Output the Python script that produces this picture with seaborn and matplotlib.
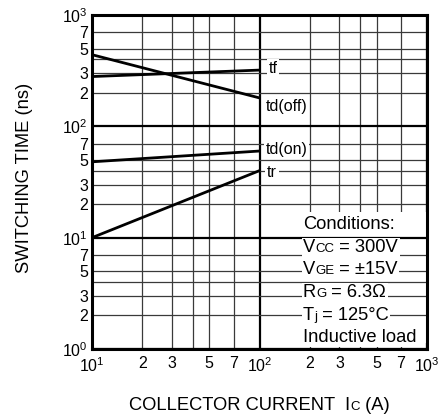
import numpy as np
import pandas as pd
import matplotlib
matplotlib.use("Agg")
import matplotlib.pyplot as plt
import seaborn as sns
from matplotlib.ticker import FixedLocator, FixedFormatter
from matplotlib.patches import Rectangle
from matplotlib.transforms import Bbox

# ---------------- data ----------------
collector_current = [10, 100]          # A
tf_ns = [280, 320]
td_off_ns = [440, 180]
td_on_ns = [48, 60]
tr_ns = [10, 40]
series_names = ["tf", "td(off)", "td(on)", "tr"]

x_major = [10, 100, 1000]
x_major_labels = ["10$^{1}$", "10$^{2}$", "10$^{3}$"]
x_minor = [20, 30, 40, 50, 70, 200, 300, 400, 500, 700]
x_minor_labels = ["2", "3", "", "5", "7", "2", "3", "", "5", "7"]
y_major = [1, 10, 100, 1000]
y_major_labels = ["10$^{0}$", "10$^{1}$", "10$^{2}$", "10$^{3}$"]
y_minor = [2, 3, 4, 5, 7, 20, 30, 40, 50, 70, 200, 300, 400, 500, 700]
y_minor_labels = ["2", "3", "", "5", "7"] * 3

conditions = [
    [("Conditions:", 1.0)],
    [("V", 1.0), ("CC", 0.72), (" = 300V", 1.0)],
    [("V", 1.0), ("GE", 0.72), (" = \u00b115V", 1.0)],
    [("R", 1.0), ("G", 0.72), (" = 6.3\u03a9", 1.0)],
    [("T", 1.0), ("j", 0.72), (" = 125\u00b0C", 1.0)],
    [("Inductive load", 1.0)],
]

df = pd.DataFrame({
    "ic": collector_current * 4,
    "t": tf_ns + td_off_ns + td_on_ns + tr_ns,
    "series": sum([[n] * 2 for n in series_names], []),
})

# ---------------- style ----------------
sns.set_theme(style="white")
plt.rcParams["font.family"] = ["Liberation Sans", "DejaVu Sans"]
plt.rcParams["mathtext.fontset"] = "custom"
plt.rcParams["mathtext.rm"] = "Liberation Sans"
plt.rcParams["mathtext.it"] = "Liberation Sans:italic"
plt.rcParams["mathtext.bf"] = "Liberation Sans:bold"

W, H = 441, 416
fig = plt.figure(figsize=(W / 100, H / 100), dpi=100)
L, R, T, B = 92, 427, 15, 349
ax = fig.add_axes([L / W, 1 - B / H, (R - L) / W, (B - T) / H])

for name in series_names:
    sns.lineplot(data=df[df.series == name], x="ic", y="t", ax=ax,
                 color="black", lw=2.0, zorder=2, legend=False)

ax.set_xscale("log")
ax.set_yscale("log")
ax.set_xlim(10, 1000)
ax.set_ylim(1, 1000)
ax.set_xlabel("")
ax.set_ylabel("")

ax.xaxis.set_major_locator(FixedLocator(x_major))
ax.xaxis.set_major_formatter(FixedFormatter(x_major_labels))
ax.xaxis.set_minor_locator(FixedLocator(x_minor))
ax.xaxis.set_minor_formatter(FixedFormatter(x_minor_labels))
ax.yaxis.set_major_locator(FixedLocator(y_major))
ax.yaxis.set_major_formatter(FixedFormatter(y_major_labels))
ax.yaxis.set_minor_locator(FixedLocator(y_minor))
ax.yaxis.set_minor_formatter(FixedFormatter(y_minor_labels))

ax.grid(which="major", color="black", lw=1.6)
ax.grid(which="minor", color="#3a3a3a", lw=0.9)
ax.tick_params(which="both", direction="in", length=3.5, width=1,
               color="black", labelsize=11.5, labelcolor="black")
ax.tick_params(axis="x", which="both", pad=5)
ax.tick_params(axis="y", which="both", pad=3)
for s in ax.spines.values():
    s.set_color("black")
    s.set_linewidth(2.2)

ax.set_axisbelow(True)
ax.yaxis.set_zorder(1.5)   # horizontal grid above the conditions panel

# white panel behind conditions (hides vertical grid only)
ax.add_patch(Rectangle(((298 - L) / (R - L), 6 / (B - T)),
                       1 - (298 - L) / (R - L), (B - 212 - 6) / (B - T),
                       transform=ax.transAxes, facecolor="white",
                       edgecolor="none", zorder=1))

# curve labels
label_pos = {"tf": (113, 334), "td(off)": (108.6, 152),
             "td(on)": (108.6, 62.5), "tr": (111, 38.3)}
for name in series_names:
    x, y = label_pos[name]
    ax.text(x, y, name, fontsize=11.5, ha="left", va="center", color="black",
            bbox=dict(facecolor="white", edgecolor="none", pad=1.2), zorder=3)

# conditions text, built from segments (small-caps subscripts)
cond_y = [222, 245, 267, 290, 313, 335]
cond_lines = []
for parts, yc in zip(conditions, cond_y):
    segs = []
    base_px = yc + 0.36 * 13.2 * 100 / 72      # baseline, px from top
    for s, sc in parts:
        t = ax.text((303 - L) / (R - L), (B - base_px) / (B - T), s,
                    transform=ax.transAxes, fontsize=13.2 * sc, ha="left",
                    va="baseline", color="black", zorder=3)
        segs.append(t)
    cond_lines.append(segs)

fig.canvas.draw()
rend = fig.canvas.get_renderer()
inv = ax.transAxes.inverted()
for segs in cond_lines:
    x_cursor = segs[0].get_window_extent(rend).x1
    for t in segs[1:]:
        ax_x = inv.transform([[x_cursor, 0]])[0][0]
        t.set_x(ax_x)
        x_cursor += t.get_window_extent(rend).width
fig.canvas.draw()
for segs in cond_lines:
    u = Bbox.union([t.get_window_extent(rend) for t in segs])
    (ax0, ay0), (ax1, ay1) = inv.transform([[u.x0 - 1.5, u.y0 - 1],
                                            [u.x1 + 1.5, u.y1 + 1]])
    ax.add_patch(Rectangle((ax0, ay0), ax1 - ax0, ay1 - ay0,
                           transform=ax.transAxes, facecolor="white",
                           edgecolor="none", zorder=2.8))

# y label
fig.text(25 / W, 1 - 178 / H, "SWITCHING TIME (ns)", rotation=90,
         ha="center", va="center", fontsize=13.2, color="black")

# x label with small-caps subscript
xparts = [("COLLECTOR CURRENT  I", 1.0), ("C", 0.72), (" (A)", 1.0)]
xl = []
for s, sc in xparts:
    t = fig.text(0.3, 1 - 410 / H, s, fontsize=13.2 * sc, ha="left",
                 va="baseline", color="black")
    xl.append(t)
fig.canvas.draw()
total = sum(t.get_window_extent(rend).width for t in xl)
xpos = (L + R) / 2 - total / 2
for t in xl:
    t.set_x(xpos / W)
    xpos += t.get_window_extent(rend).width

fig.savefig("out.png", dpi=100)
